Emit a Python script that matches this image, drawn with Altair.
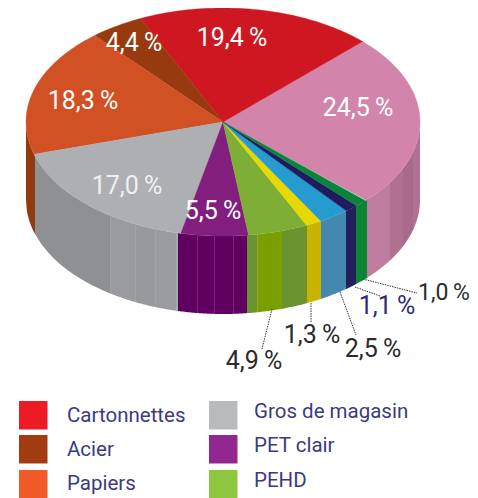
import math
import altair as alt
import pandas as pd

# ---- chart values ----
slice_labels = ["24,5\u2009%", "19,4\u2009%", "4,4\u2009%", "18,3\u2009%", "17,0\u2009%", "5,5\u2009%", "4,9\u2009%", "1,3\u2009%", "2,5\u2009%", "1,1\u2009%", "1,0\u2009%"]
slice_values = [24.5, 19.4, 4.4, 18.3, 17.0, 5.5, 4.9, 1.3, 2.5, 1.1, 1.0]
slice_colors = ["#d384aa", "#ce1720", "#983a10", "#d15024", "#aeafb2", "#821e7d", "#7eae35", "#e6d800", "#259bcf", "#201a5e", "#0a843c"]

legend_names = ["Cartonnettes", "Acier", "Papiers", "Gros de magasin", "PET clair", "PEHD"]
legend_colors = ["#ed1c24", "#a23c13", "#f15a29", "#b9babc", "#92278f", "#8dc63f"]

# ---- layout (pixels of the page) ----
CX, CY, RX, RY, DEPTH = 223, 122, 197, 114, 78
START_DEG = -43.3

label_x = [358, 232, 134, 83, 127, 213, 254, 312, 373, 387, 444]
label_y = [108, 38, 43, 101, 186, 211, 361, 335, 349, 306, 293]
label_size = [25, 25, 25, 25, 25, 25, 25, 25, 25, 25, 23]
label_col = ["#ffffff"] * 4 + ["#f0f0f0", "#ffffff"] + ["#2b2b2b"] * 3 + ["#2e2a7a", "#2b2b2b"]

side_x = [26, 35, 110, 111, 135, 136, 155, 156, 176, 178, 197, 198, 214, 215, 233, 234, 247, 257, 258, 281, 282,
          307, 321, 346, 356, 367, 390, 403, 413, 420]
side_c = ["#913a0e", "#8f9094", "#a0a1a3", "#9a9b9e", "#a2a3a5", "#98999c", "#a2a3a5", "#9a9b9e", "#a8a9ab",
          "#600060", "#762a74", "#600060", "#762a74", "#600060", "#762a74", "#600060", "#6b9430", "#8aa83a", "#7a9f00",
          "#7a9f00", "#6b9430", "#c8b400", "#4488b0", "#221f5c", "#0a8534", "#be7c9f", "#b0708f", "#a96b8c", "#b07293"]

leader_a = [(363, 279), (355, 287), (340, 292), (311, 303), (272, 309)]
leader_b = [(417, 293), (380, 296), (356, 335), (311, 322), (262, 349)]

legend_x0 = [19, 19, 19, 209, 209, 209]
legend_y0 = [401, 435, 470, 401, 435, 470]
legend_tx = [67, 67, 67, 254, 254, 254]
legend_ty = [416, 450, 484, 412, 446, 481]

# ---- scales map page pixels, plot origin sits at the 8px page margin ----
W, H = 462, 490
X = alt.Scale(domain=[8, 8 + W], range=[0, W])
Y = alt.Scale(domain=[8, 8 + H], range=[0, H])
xe = lambda f="x": alt.X(f"{f}:Q", scale=X, axis=None)
ye = lambda f="y": alt.Y(f"{f}:Q", scale=Y, axis=None)

# side wall
rows = []
for i, c in enumerate(side_c):
    x0, x1 = side_x[i], side_x[i + 1] + 0.4
    for k in range(13):
        x = min(x0 + (x1 - x0) * k / 12, CX + RX)
        t = max(0.0, 1 - ((x - CX) / RX) ** 2)
        y = CY + RY * math.sqrt(t)
        rows.append({"x": x, "y": y, "y2": y + DEPTH, "band": i, "c": c})
side = alt.Chart(pd.DataFrame(rows)).mark_area(interpolate="linear").encode(
    x=xe(), y=ye(), y2="y2:Q", color=alt.Color("c:N", scale=None), detail="band:N"
)

# top face: one closed wedge per value
layers = [side]
ang = START_DEG
for v, c in zip(slice_values, slice_colors):
    a1 = ang + v * 3.6
    n = max(3, int(v * 3))
    pts = [(CX, CY)]
    for k in range(n + 1):
        a = math.radians(ang + (a1 - ang) * k / n)
        pts.append((CX + RX * math.cos(a), CY - RY * math.sin(a)))
    pts.append((CX, CY))
    df = pd.DataFrame([{"x": p[0], "y": p[1], "o": j} for j, p in enumerate(pts)])
    layers.append(alt.Chart(df).mark_line(fill=c, stroke=c, strokeWidth=0.4, interpolate="linear").encode(
        x=xe(), y=ye(), order="o:Q"))
    ang = a1

# leader lines
rows = []
for i, (a, b) in enumerate(zip(leader_a, leader_b)):
    rows += [{"x": a[0], "y": a[1], "id": i, "o": 0}, {"x": b[0], "y": b[1], "id": i, "o": 1}]
layers.append(alt.Chart(pd.DataFrame(rows)).mark_line(color="#333333", strokeWidth=1, strokeDash=[1.5, 1]).encode(
    x=xe(), y=ye(), detail="id:N", order="o:Q"))

# value labels
labels = pd.DataFrame({"t": slice_labels, "x": label_x, "y": label_y, "c": label_col, "s": label_size})
layers.append(alt.Chart(labels).mark_text(font="Roboto", align="center", baseline="middle").encode(
    x=xe(), y=ye(), text="t:N", color=alt.Color("c:N", scale=None), size=alt.Size("s:Q", scale=None)))

# key
key = pd.DataFrame({"n": legend_names, "c": legend_colors,
                    "x": legend_x0, "x2": [v + 28.5 for v in legend_x0],
                    "y": legend_y0, "y2": [v + 28.5 for v in legend_y0],
                    "tx": legend_tx, "ty": legend_ty})
layers.append(alt.Chart(key).mark_rect().encode(
    x=xe(), x2="x2:Q", y=ye(), y2="y2:Q", color=alt.Color("c:N", scale=None)))
layers.append(alt.Chart(key).mark_text(font="Roboto", fontSize=20.5, align="left", baseline="middle",
                                       color="#3c3a80").encode(x=xe("tx"), y=ye("ty"), text="n:N"))

chart = alt.layer(*layers).properties(width=W, height=H, padding=0, autosize="none").configure_view(stroke=None)
chart.save("out.html", embed_options={"renderer": "svg", "actions": False})
